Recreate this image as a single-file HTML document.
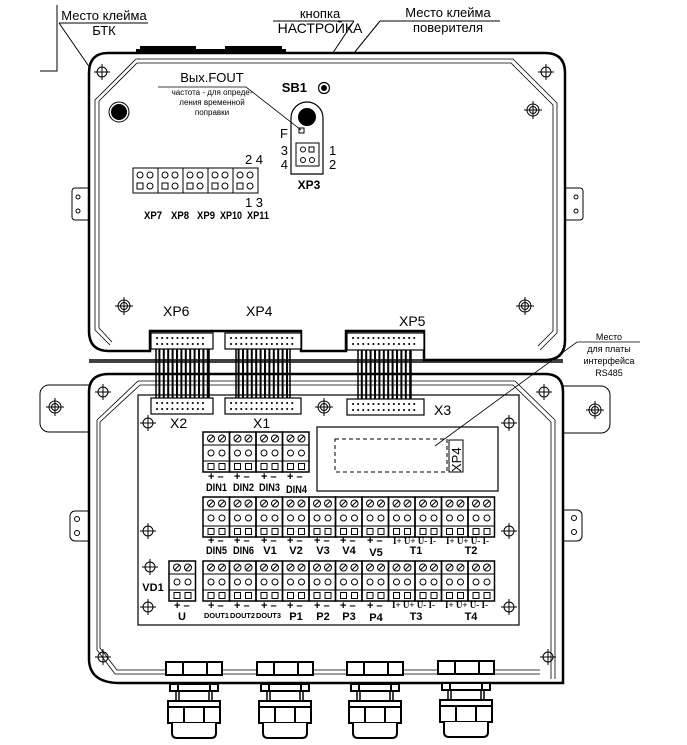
<!DOCTYPE html>
<html><head><meta charset="utf-8"><style>
html,body{margin:0;padding:0;background:#fff}
svg{display:block}
text{font-family:"Liberation Sans",sans-serif;fill:#000}
.b{font-weight:bold}
</style></head><body>
<svg width="687" height="745" viewBox="0 0 687 745" xmlns="http://www.w3.org/2000/svg">
<defs>
<g id="cr"><circle r="5" fill="none" stroke="#000" stroke-width="1"/><path d="M-8 0H8M0 -8V8" stroke="#000" stroke-width="1"/></g>
<g id="cr2"><circle r="6" fill="none" stroke="#000" stroke-width="1"/><circle r="3.5" fill="none" stroke="#000" stroke-width="1"/><path d="M-9 0H9M0 -9V9" stroke="#000" stroke-width="1"/></g>
<g id="tg" fill="none" stroke="#000">
<rect x="0" y="0" width="26.5" height="40" stroke-width="1.5"/>
<path d="M0 13H26.5M0 29H26.5" stroke-width="1"/>
<circle cx="8" cy="6.5" r="3.5"/><circle cx="19" cy="6.5" r="3.5"/>
<path d="M5.5 9L10.5 4M16.5 9L21.5 4"/>
<circle cx="8" cy="21" r="3"/><circle cx="19" cy="21" r="3"/>
<rect x="5" y="31.5" width="6" height="6"/><rect x="16" y="31.5" width="6" height="6"/>
</g>
<g id="hg" fill="none" stroke="#000" stroke-width="1">
<rect x="0" y="0" width="25" height="25"/>
<circle cx="7" cy="7" r="3"/><circle cx="17" cy="7" r="3"/>
<rect x="4" y="15" width="6" height="6"/><circle cx="17" cy="18" r="3"/>
</g>
<pattern id="rib" width="4.4" height="10" patternUnits="userSpaceOnUse"><rect x="0" y="0" width="2" height="10" fill="#000"/></pattern>
<g id="gland" fill="#fff" stroke="#000" stroke-width="2">
<rect x="-28" y="-21" width="56" height="13"/><path d="M-11 -21V-8M13 -21V-8"/>
<rect x="-24" y="1" width="48" height="7"/><path d="M-16 1V8M16 1V8"/>
<path d="M-18 8V18M-15 8V18M18 8V18M15 8V18" stroke-width="1.5"/>
<rect x="-26" y="18" width="52" height="6"/>
<rect x="-26" y="24" width="52" height="16"/><path d="M-10 24V40M10 24V40"/>
<path d="M-22 40V50Q-22 55 -17 55H17Q22 55 22 50V40"/>
</g>
</defs>

<text x="104" y="20" font-size="13" text-anchor="middle">Место клейма</text>
<text x="104" y="35" font-size="13" text-anchor="middle">БТК</text>
<path d="M59 23H148M59 23L119 110M57 5V71H40" stroke="#000" fill="none"/>
<text x="320" y="18" font-size="13" text-anchor="middle">кнопка</text>
<text x="320" y="33" font-size="14" text-anchor="middle">НАСТРОЙКА</text>
<path d="M273 21H354M354 21L311 86" stroke="#000" fill="none"/>
<text x="448" y="17" font-size="13" text-anchor="middle">Место клейма</text>
<text x="448" y="32" font-size="13" text-anchor="middle">поверителя</text>
<path d="M380 21H500M380 21L311 106" stroke="#000" fill="none"/>

<path d="M140 46H196V49H140ZM225 46H282V49H225Z" fill="#000"/>
<rect x="136" y="49" width="150" height="5" fill="#000"/>
<rect x="72" y="188" width="18" height="32" rx="3" fill="#fff" stroke="#000"/>
<circle cx="78" cy="197" r="2" fill="none" stroke="#000"/><circle cx="78" cy="211" r="2" fill="none" stroke="#000"/>
<rect x="562" y="188" width="21" height="32" rx="3" fill="#fff" stroke="#000"/>
<circle cx="576" cy="197" r="2" fill="none" stroke="#000"/><circle cx="576" cy="211" r="2" fill="none" stroke="#000"/>
<path d="M108 53H545Q565 53 565 73V340Q565 360 545 360H424V331H346V351H301V331H150V351H109Q89 351 89 331V73Q89 53 108 53Z" fill="#fff" stroke="#000" stroke-width="2.5"/>
<path d="M136 59H513L557 103V333L540 350M136 59L95 100V330L110 345" fill="none" stroke="#000" stroke-width="0.8"/>
<path d="M137 63H511L553 105V331L538 346M137 63L99 101V328L112 342" fill="none" stroke="#000" stroke-width="0.8"/>
<use href="#cr" x="102" y="72"/><use href="#cr" x="546" y="72"/>
<use href="#cr2" x="124" y="306"/><use href="#cr2" x="525" y="306"/><use href="#cr2" x="533" y="110"/>
<circle cx="119" cy="112" r="10" fill="none" stroke="#000"/><circle cx="119" cy="112" r="8" fill="#000"/>
<text x="307" y="92" font-size="13" class="b" text-anchor="end">SB1</text>
<circle cx="324" cy="88" r="5.5" fill="none" stroke="#000" stroke-width="1.2"/><circle cx="324" cy="88" r="3" fill="#000"/>
<path d="M291 174V118A16 16 0 0 1 323 118V174Z" fill="none" stroke="#000" stroke-width="1.2"/>
<circle cx="307" cy="117" r="9" fill="#000"/>
<rect x="299" y="128" width="5" height="5" fill="none" stroke="#000"/>
<text x="288" y="138" font-size="13" text-anchor="end">F</text>
<text x="288" y="155" font-size="13" text-anchor="end">3</text>
<text x="288" y="169" font-size="13" text-anchor="end">4</text>
<text x="329" y="155" font-size="13">1</text>
<text x="329" y="169" font-size="13">2</text>
<rect x="296" y="143" width="23" height="23" fill="none" stroke="#000"/>
<circle cx="303" cy="149.5" r="2.5" fill="none" stroke="#000"/><rect x="309" y="147" width="5" height="5" fill="none" stroke="#000"/>
<circle cx="303" cy="160" r="2.5" fill="none" stroke="#000"/><circle cx="312" cy="160" r="2.5" fill="none" stroke="#000"/>
<text x="309" y="189" font-size="12" class="b" text-anchor="middle">XP3</text>
<text x="212" y="82" font-size="13" text-anchor="middle">Вых.FOUT</text>
<path d="M158 87H246L301 130" fill="none" stroke="#000" stroke-width="0.8"/>
<text x="212" y="95" font-size="8" text-anchor="middle">частота - для опреде-</text>
<text x="212" y="105" font-size="8" text-anchor="middle">ления временной</text>
<text x="212" y="115" font-size="8" text-anchor="middle">поправки</text>
<use href="#hg" x="133" y="168"/><use href="#hg" x="158" y="168"/><use href="#hg" x="183" y="168"/><use href="#hg" x="208" y="168"/><use href="#hg" x="233" y="168"/>
<text x="254" y="164" font-size="13" text-anchor="middle">2 4</text>
<text x="254" y="207" font-size="13" text-anchor="middle">1 3</text>
<g font-size="11" class="b"><text x="144" y="219" textLength="18" lengthAdjust="spacingAndGlyphs">XP7</text><text x="171" y="219" textLength="18" lengthAdjust="spacingAndGlyphs">XP8</text><text x="197" y="219" textLength="18" lengthAdjust="spacingAndGlyphs">XP9</text><text x="220" y="219" textLength="22" lengthAdjust="spacingAndGlyphs">XP10</text><text x="247" y="219" textLength="22" lengthAdjust="spacingAndGlyphs">XP11</text></g>
<g font-size="14"><text x="163" y="316">XP6</text><text x="246" y="316">XP4</text><text x="399" y="326">XP5</text></g>

<rect x="40" y="385" width="57" height="47" rx="9" fill="#fff" stroke="#000"/>
<use href="#cr2" x="55" y="407"/>
<rect x="70" y="511" width="37" height="30" rx="5" fill="#fff" stroke="#000"/>
<circle cx="77" cy="519" r="2.5" fill="none" stroke="#000"/><circle cx="77" cy="533" r="2.5" fill="none" stroke="#000"/>
<rect x="553" y="386" width="57" height="47" rx="9" fill="#fff" stroke="#000"/>
<use href="#cr2" x="595" y="410"/>
<rect x="545" y="510" width="37" height="31" rx="5" fill="#fff" stroke="#000"/>
<circle cx="574" cy="518" r="2.5" fill="none" stroke="#000"/><circle cx="574" cy="532" r="2.5" fill="none" stroke="#000"/>
<path d="M109 374H545Q563 374 563 392V683H120Q90 683 89 660V392Q89 374 109 374Z" fill="#fff" stroke="#000" stroke-width="2.5"/>
<path d="M138 381H515L555 420V679M138 381L97 420V650L115 674H540" fill="none" stroke="#000" stroke-width="0.8"/>
<path d="M140 385H513L551 422V679M140 385L100 422V648L117 670H540" fill="none" stroke="#000" stroke-width="0.8"/>
<rect x="138" y="395" width="381" height="230" fill="none" stroke="#000" stroke-width="1.2"/>
<use href="#cr" x="103" y="392"/><use href="#cr" x="544" y="392"/>
<use href="#cr" x="148" y="423"/><use href="#cr" x="509" y="423"/>
<use href="#cr" x="148" y="531"/><use href="#cr" x="509" y="531"/>
<use href="#cr" x="150" y="567"/><use href="#cr" x="148" y="607"/><use href="#cr" x="509" y="607"/>
<use href="#cr" x="103" y="657"/><use href="#cr" x="548" y="657"/>
<use href="#cr2" x="324" y="407"/>

<path d="M89 360H563M89 362H563" stroke="#000" stroke-width="1.5"/>
<rect x="156" y="349" width="53" height="49" fill="url(#rib)"/>
<rect x="236" y="349" width="54" height="49" fill="url(#rib)"/>
<rect x="358" y="350" width="53" height="49" fill="url(#rib)"/>
<path d="M156 349V398M209 349V398M236 349V398M290 349V398M358 350V399M411 350V399" stroke="#000" stroke-width="1.5"/>
<g fill="#fff" stroke="#000" stroke-width="1.2">
<rect x="151" y="333" width="62" height="16"/><rect x="225" y="333" width="76" height="16"/><rect x="347" y="333" width="77" height="17"/>
<rect x="151" y="398" width="62" height="16"/><rect x="225" y="398" width="76" height="16"/><rect x="347" y="399" width="77" height="16"/>
</g>
<g stroke="#000" stroke-width="2" stroke-dasharray="0.1 5" stroke-linecap="round">
<path d="M157 338H206M157 344H206M231 338H295M231 344H295M353 338H418M353 344H418"/>
<path d="M157 403H206M157 409H206M231 403H295M231 409H295M353 404H418M353 410H418"/>
</g>
<g font-size="14"><text x="170" y="428">X2</text><text x="253" y="428">X1</text><text x="434" y="415">X3</text></g>

<g font-size="9" text-anchor="middle"><text x="609" y="340">Место</text><text x="609" y="352">для платы</text><text x="609" y="364">интерфейса</text><text x="609" y="376">RS485</text></g>
<path d="M640 342H577L435 446" fill="none" stroke="#000" stroke-width="0.8"/>
<rect x="317" y="427" width="181" height="64" fill="none" stroke="#000" stroke-width="1.2"/>
<rect x="335" y="439" width="112" height="33" fill="none" stroke="#000" stroke-dasharray="4 3"/>
<rect x="449" y="440" width="14" height="32" fill="none" stroke="#000"/>
<text transform="translate(461,472) rotate(-90)" font-size="13">XP4</text>

<use href="#tg" x="203" y="432"/><use href="#tg" x="229.5" y="432"/><use href="#tg" x="256" y="432"/><use href="#tg" x="282.5" y="432"/>
<use href="#tg" x="203" y="497"/><use href="#tg" x="229.5" y="497"/><use href="#tg" x="256" y="497"/><use href="#tg" x="282.5" y="497"/><use href="#tg" x="309" y="497"/><use href="#tg" x="335.5" y="497"/><use href="#tg" x="362" y="497"/><use href="#tg" x="388.5" y="497"/><use href="#tg" x="415" y="497"/><use href="#tg" x="441.5" y="497"/><use href="#tg" x="468" y="497"/>
<use href="#tg" x="169" y="561"/>
<use href="#tg" x="203" y="561"/><use href="#tg" x="229.5" y="561"/><use href="#tg" x="256" y="561"/><use href="#tg" x="282.5" y="561"/><use href="#tg" x="309" y="561"/><use href="#tg" x="335.5" y="561"/><use href="#tg" x="362" y="561"/><use href="#tg" x="388.5" y="561"/><use href="#tg" x="415" y="561"/><use href="#tg" x="441.5" y="561"/><use href="#tg" x="468" y="561"/>

<g font-size="11" class="b">
<text x="208" y="480">+ –</text><text x="234" y="480">+ –</text><text x="261" y="480">+ –</text><text x="287" y="480">+ –</text>
</g>
<g font-size="11" class="b"><text x="206" y="491" textLength="21" lengthAdjust="spacingAndGlyphs">DIN1</text><text x="233" y="491" textLength="21" lengthAdjust="spacingAndGlyphs">DIN2</text><text x="259" y="491" textLength="21" lengthAdjust="spacingAndGlyphs">DIN3</text><text x="286" y="493" textLength="21" lengthAdjust="spacingAndGlyphs">DIN4</text></g>
<g font-size="11" class="b">
<text x="208" y="544">+ –</text><text x="234" y="544">+ –</text><text x="261" y="544">+ –</text><text x="287" y="544">+ –</text><text x="314" y="544">+ –</text><text x="340" y="544">+ –</text><text x="367" y="544">+ –</text>
</g>
<g font-size="9" class="b"><text x="393" y="544" style="font-family:'Liberation Serif',serif">I+ U+  U- I-</text><text x="446" y="544" style="font-family:'Liberation Serif',serif">I+ U+  U- I-</text>
<text x="392" y="608" style="font-family:'Liberation Serif',serif">I+ U+  U- I-</text><text x="445" y="608" style="font-family:'Liberation Serif',serif">I+ U+  U- I-</text></g>
<g font-size="11" class="b"><text x="206" y="554" textLength="21" lengthAdjust="spacingAndGlyphs">DIN5</text><text x="233" y="554" textLength="21" lengthAdjust="spacingAndGlyphs">DIN6</text></g>
<g font-size="11" class="b" text-anchor="middle"><text x="270" y="554">V1</text><text x="296" y="554">V2</text><text x="323" y="554">V3</text><text x="349" y="554">V4</text><text x="376" y="556">V5</text><text x="416" y="554">T1</text><text x="471" y="554">T2</text></g>
<g font-size="11" class="b">
<text x="174" y="609">+ –</text>
<text x="208" y="609">+ –</text><text x="234" y="609">+ –</text><text x="261" y="609">+ –</text><text x="287" y="609">+ –</text><text x="314" y="609">+ –</text><text x="340" y="609">+ –</text><text x="367" y="609">+ –</text>
</g>
<text x="153" y="591" font-size="11" class="b" text-anchor="middle">VD1</text>
<g font-size="11" class="b" text-anchor="middle"><text x="182" y="620">U</text><text x="296" y="620">P1</text><text x="323" y="620">P2</text><text x="349" y="620">P3</text><text x="376" y="621">P4</text><text x="416" y="620">T3</text><text x="471" y="620">T4</text></g>
<g font-size="7.5" class="b"><text x="204" y="618" textLength="25" lengthAdjust="spacingAndGlyphs">DOUT1</text><text x="230" y="618" textLength="25" lengthAdjust="spacingAndGlyphs">DOUT2</text><text x="256" y="618" textLength="25" lengthAdjust="spacingAndGlyphs">DOUT3</text></g>

<use href="#gland" x="194" y="683"/><use href="#gland" x="285" y="683"/><use href="#gland" x="375" y="683"/><use href="#gland" x="466" y="682"/>
</svg>
</body></html>
